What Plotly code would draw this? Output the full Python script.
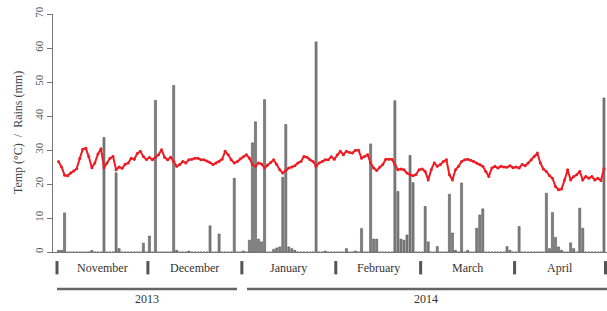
import plotly.graph_objects as go

month_names = ["November", "December", "January", "February", "March", "April"]
month_days = [30, 31, 31, 28, 31, 30]
years = ["2013", "2014"]

rain_nov = [0.5, 0.5, 11.5, 0, 0, 0, 0, 0, 0, 0, 0, 0.5, 0, 0, 0, 33.7, 0, 0, 0, 23.3,
            1.0, 0, 0, 0, 0, 0, 0, 0, 2.6, 0]
rain_dec = [4.7, 0, 44.6, 0, 0, 0, 0, 0, 49.0, 0.5, 0, 0, 0, 0.3, 0, 0, 0, 0, 0, 0,
            7.7, 0, 0, 5.3, 0, 0, 0, 0, 21.7, 0, 0]
rain_jan = [0.3, 0, 3.5, 32.1, 38.3, 3.8, 3.0, 44.8, 0, 0, 0.8, 1.2, 1.5, 22.0, 37.5, 1.5,
            1.0, 0.5, 0, 0, 0, 0, 0, 0, 61.8, 0, 0, 0.3, 0, 0, 0]
rain_feb = [0, 0, 0, 1.0, 0, 0, 0.3, 0, 6.9, 0, 0, 31.8, 3.8, 3.8, 0, 0, 0, 0, 0, 44.5,
            17.8, 3.8, 3.5, 5.0, 28.4, 20.4, 0, 0]
rain_mar = [0, 13.4, 3.0, 0, 0, 1.6, 0, 0, 0, 17.0, 5.6, 0.5, 0, 20.3, 0, 0.5, 0, 0, 7.0, 10.9,
            12.7, 0, 0, 0, 0, 0, 0, 0, 1.6, 0.5, 0]
rain_apr = [0, 7.5, 0, 0, 0, 0, 0, 0, 0, 0, 17.3, 1.0, 11.6, 4.3, 1.5, 0.5, 0, 0, 2.7, 1.0,
            0, 12.9, 7.0, 0, 0, 0, 0, 0, 0, 45.3]

temp_nov = [26.6, 25.0, 22.6, 22.4, 23.2, 23.8, 24.5, 27.5, 30.2, 30.5, 28.0, 24.8, 26.2, 28.8, 30.4,
            24.8, 26.2, 27.6, 28.1, 24.2, 25.0, 24.6, 25.8, 26.2, 27.6, 27.3, 29.0, 29.6, 28.1, 27.2]
temp_dec = [27.8, 27.1, 27.9, 28.6, 30.1, 27.9, 27.1, 27.9, 26.6, 25.2, 25.7, 26.6, 26.2, 27.1, 27.3,
            27.6, 27.6, 27.1, 27.1, 26.8, 26.3, 25.7, 26.2, 26.6, 27.3, 29.6, 28.6, 27.1, 26.2, 26.6, 27.4]
temp_jan = [28.0, 28.6, 27.6, 25.7, 25.2, 26.2, 25.9, 24.7, 25.6, 26.3, 27.1, 25.7, 24.2, 23.2, 24.0,
            24.7, 25.0, 25.4, 26.2, 26.6, 28.1, 27.9, 27.1, 26.6, 25.2, 26.2, 26.6, 27.1, 27.1, 28.0, 27.3]
temp_feb = [28.6, 29.6, 28.6, 29.6, 29.3, 29.1, 29.9, 29.9, 27.6, 28.1, 28.6, 26.2, 24.7, 24.0,
            25.0, 25.7, 27.3, 27.3, 27.3, 25.7, 24.2, 24.4, 24.2, 23.2, 22.7, 22.4, 22.8, 24.2]
temp_mar = [24.4, 23.7, 21.2, 24.2, 26.2, 25.2, 25.7, 26.6, 27.1, 22.7, 21.2, 24.2, 25.2, 26.6, 27.1,
            27.3, 27.0, 26.6, 26.2, 25.7, 25.2, 23.7, 22.2, 24.7, 25.2, 24.7, 25.2, 25.0, 24.9, 25.4, 24.8]
temp_apr = [25.0, 24.7, 25.7, 25.4, 26.2, 27.1, 28.1, 29.1, 26.2, 24.4, 23.7, 22.5, 21.7, 19.3, 18.3,
            18.5, 21.2, 24.2, 21.2, 22.2, 22.7, 23.7, 21.2, 22.2, 21.7, 22.2, 21.2, 21.7, 21.0, 24.5]

y_ticks = [0, 10, 20, 30, 40, 50, 60, 70]

rain = rain_nov + rain_dec + rain_jan + rain_feb + rain_mar + rain_apr
temp = temp_nov + temp_dec + temp_jan + temp_feb + temp_mar + temp_apr
days = list(range(len(rain)))

SERIF = "Liberation Serif, Times New Roman, serif"

fig = go.Figure()
fig.add_trace(go.Bar(x=days, y=rain, marker=dict(color="#808080", line=dict(color="#4a4a4a", width=0.5)),
                     showlegend=False))
fig.add_trace(go.Scatter(x=days, y=temp, mode="lines+markers",
                         line=dict(color="#ee1c24", width=2),
                         marker=dict(color="#ee1c24", size=3), showlegend=False))

starts = []
s = 0
for n in month_days:
    starts.append(s)
    s += n
bounds = [st - 0.5 for st in starts] + [s - 0.5]
shapes = []
annotations = []
for b in bounds:
    shapes.append(dict(type="line", xref="x", yref="paper", x0=b, x1=b, y0=-0.094, y1=-0.038,
                       line=dict(color="#555555", width=3)))
for name, st, n in zip(month_names, starts, month_days):
    annotations.append(dict(text=name, x=st + n / 2 - 0.5, y=-0.067, xref="x", yref="paper",
                            showarrow=False, yanchor="middle", xanchor="center",
                            font=dict(family=SERIF, size=12, color="#333333")))
year_spans = [(-0.5, 58.9), (62.2, 181)]
for (a, b), yr in zip(year_spans, years):
    shapes.append(dict(type="line", xref="x", yref="paper", x0=a, x1=b, y0=-0.155, y1=-0.155,
                       line=dict(color="#666666", width=2.5)))
    annotations.append(dict(text=yr, x=(a + min(b, 180.5)) / 2, y=-0.197, xref="x", yref="paper",
                            showarrow=False, yanchor="middle", xanchor="center",
                            font=dict(family=SERIF, size=12, color="#333333")))
annotations.append(dict(text="Temp (°C)  /  Rains (mm)", x=-0.063, y=0.5, xref="paper", yref="paper",
                        showarrow=False, textangle=-90, xanchor="center", yanchor="middle",
                        font=dict(family=SERIF, size=12, color="#444444")))

fig.update_layout(
    width=607, height=311,
    margin=dict(l=53, r=0, t=14, b=59, autoexpand=False),
    paper_bgcolor="white", plot_bgcolor="white",
    bargap=0.3,
    shapes=shapes, annotations=annotations,
    xaxis=dict(range=[-1.82, 181], showticklabels=False, showgrid=False, zeroline=False,
               showline=True, linecolor="#777777", linewidth=1, ticks="", automargin=False),
    yaxis=dict(range=[0, 70], tickvals=y_ticks, ticktext=[str(v) for v in y_ticks],
               tickangle=-90, ticks="outside", ticklen=5, tickcolor="#777777",
               showline=True, linecolor="#777777", linewidth=1,
               showgrid=False, zeroline=False, automargin=False, ticklabeloverflow="allow",
               tickfont=dict(family=SERIF, size=11, color="#555555")),
)

fig.write_html("out.html", config={"displayModeBar": False},
               post_script="document.body.style.margin='0';document.body.style.overflow='hidden';")
